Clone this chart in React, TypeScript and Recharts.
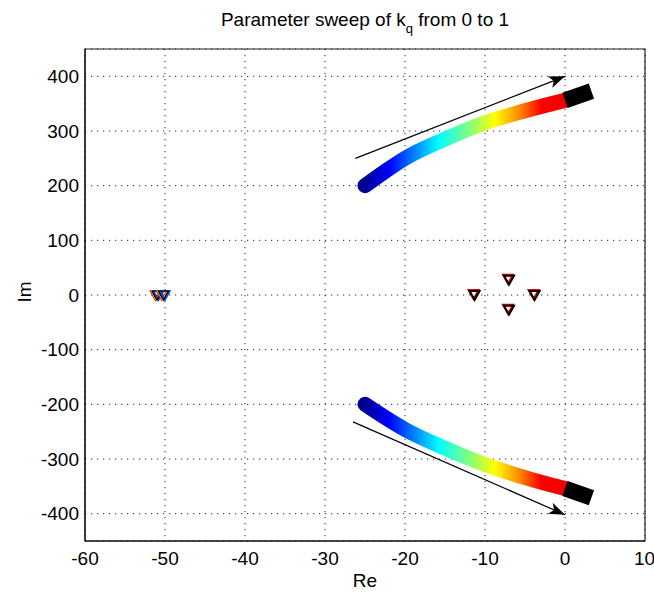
import React from 'react';
import { ComposedChart, Line, Scatter, XAxis, YAxis, CartesianGrid, ReferenceArea } from 'recharts';

const xTicks = [-60, -50, -40, -30, -20, -10, 0, 10];
const yTicks = [-400, -300, -200, -100, 0, 100, 200, 300, 400];

// root locus branches
const upperBand = [
  { x: -25, y: 200 }, { x: -22.5, y: 226 }, { x: -20, y: 250 }, { x: -15, y: 285 },
  { x: -10, y: 315 }, { x: -5, y: 337 }, { x: 0, y: 356 },
];
const lowerBand = [
  { x: -25, y: -200 }, { x: -22.5, y: -224 }, { x: -20, y: -246 }, { x: -15, y: -280 },
  { x: -10, y: -310 }, { x: -5, y: -334 }, { x: 0, y: -354 },
];
const upperTip = [{ x: 0, y: 356 }, { x: 3.3, y: 373 }];
const lowerTip = [{ x: 0, y: -354 }, { x: 3.3, y: -371 }];

// direction arrows
const upperArrow = [{ x: -26.2, y: 250 }, { x: 0, y: 400 }];
const lowerArrow = [{ x: -26.5, y: -232 }, { x: 0, y: -402 }];

// fixed poles
const farPoles = [{ x: -51, y: 0 }, { x: -50.2, y: 0 }];
const nearPoles = [{ x: -11.3, y: 0 }, { x: -7, y: 28 }, { x: -7, y: -27 }, { x: -3.8, y: 0 }];

const fringe = ['#ff0000', '#ffd000', '#30d030', '#0040ff'];

const tri = (cx: number, cy: number, r: number) =>
  `M${cx - r},${cy - r * 0.8} L${cx + r},${cy - r * 0.8} L${cx},${cy + r} Z`;

function NearPole(props: any) {
  const { cx, cy } = props;
  return (
    <g>
      <path d={tri(cx - 1, cy - 1, 5)} fill="none" stroke="#e00000" strokeWidth={2} />
      <path d={tri(cx, cy, 5)} fill="none" stroke="#000" strokeWidth={2} />
    </g>
  );
}

function FarPole(props: any) {
  const { cx, cy } = props;
  return (
    <g>
      {fringe.map((c, i) => (
        <path key={i} d={tri(cx - 1.5 + i, cy, 5)} fill="none" stroke={c} strokeWidth={1.6} />
      ))}
      <path d={tri(cx, cy, 5)} fill="none" stroke="#000" strokeWidth={1.2} />
    </g>
  );
}

export default function App() {
  return (
    <div style={{ position: 'absolute', left: 0, top: 0, width: 654, height: 592, background: '#fff', fontFamily: '"Liberation Sans", Arial, sans-serif', color: '#000' }}>
      <div style={{ position: 'absolute', left: 85, width: 560, top: 9, textAlign: 'center', fontSize: 19, lineHeight: '22px' }}>
        Parameter sweep of k<sub style={{ fontSize: 13, verticalAlign: -7 }}>q</sub> from 0 to 1
      </div>
      <div style={{ position: 'absolute', left: 85, width: 560, top: 570, textAlign: 'center', fontSize: 19, lineHeight: '22px' }}>Re</div>
      <div style={{ position: 'absolute', left: 25, top: 292, fontSize: 19, lineHeight: '22px', transform: 'translate(-50%, -50%) rotate(-90deg)' }}>Im</div>

      <ComposedChart width={654} height={592} margin={{ top: 49, right: 9, bottom: 0, left: 0 }}>
        <defs>
          <linearGradient id="jet" x1="0" y1="0" x2="1" y2="0">
            <stop offset="0%" stopColor="#00008f" />
            <stop offset="12%" stopColor="#0000ff" />
            <stop offset="37%" stopColor="#00ffff" />
            <stop offset="52%" stopColor="#80ff80" />
            <stop offset="65%" stopColor="#ffff00" />
            <stop offset="78%" stopColor="#ff8000" />
            <stop offset="88%" stopColor="#ff0000" />
            <stop offset="100%" stopColor="#f00000" />
          </linearGradient>
          <marker id="arrowHead" markerWidth="18" markerHeight="14" refX="16" refY="6" orient="auto" markerUnits="userSpaceOnUse">
            <path d="M0,0 L16,6 L0,12 L4,6 Z" fill="#000" />
          </marker>
        </defs>
        <CartesianGrid stroke="#222" strokeDasharray="1.2 4.8" />
        <XAxis
          type="number"
          dataKey="x"
          domain={[-60, 10]}
          ticks={xTicks}
          height={51}
          tickSize={0}
          tickMargin={11}
          axisLine={{ stroke: '#000' }}
          tick={{ fill: '#000', fontSize: 19 }}
          allowDataOverflow
        />
        <YAxis
          type="number"
          dataKey="y"
          domain={[-450, 450]}
          ticks={yTicks}
          width={85}
          tickSize={0}
          tickMargin={6}
          axisLine={{ stroke: '#000' }}
          tick={{ fill: '#000', fontSize: 19 }}
          allowDataOverflow
        />
        <ReferenceArea x1={-60} x2={10} y1={-450} y2={450} fill="none" stroke="#222" strokeWidth={1.2} />

        <Line data={upperArrow} dataKey="y" stroke="#000" strokeWidth={1.2} dot={false} activeDot={false} markerEnd="url(#arrowHead)" isAnimationActive={false} />
        <Line data={lowerArrow} dataKey="y" stroke="#000" strokeWidth={1.2} dot={false} activeDot={false} markerEnd="url(#arrowHead)" isAnimationActive={false} />

        <Line data={upperBand} dataKey="y" type="monotone" stroke="url(#jet)" strokeWidth={15} strokeLinecap="round" dot={false} activeDot={false} isAnimationActive={false} />
        <Line data={lowerBand} dataKey="y" type="monotone" stroke="url(#jet)" strokeWidth={15} strokeLinecap="round" dot={false} activeDot={false} isAnimationActive={false} />
        <Line data={upperTip} dataKey="y" stroke="#000" strokeWidth={16} dot={false} activeDot={false} isAnimationActive={false} />
        <Line data={lowerTip} dataKey="y" stroke="#000" strokeWidth={16} dot={false} activeDot={false} isAnimationActive={false} />

        <Scatter data={farPoles} dataKey="y" shape={FarPole} isAnimationActive={false} />
        <Scatter data={nearPoles} dataKey="y" shape={NearPole} isAnimationActive={false} />
      </ComposedChart>
    </div>
  );
}
